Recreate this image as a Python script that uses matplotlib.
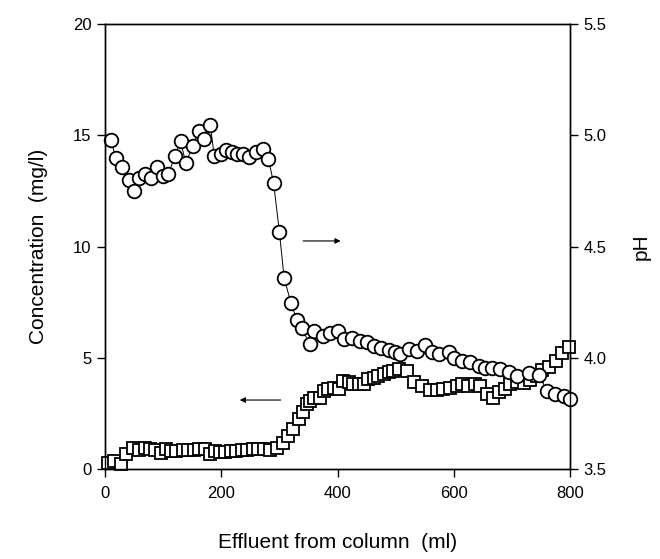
import numpy as np
import matplotlib.pyplot as plt

plt.rcParams['font.family'] = ['Liberation Sans', 'DejaVu Sans']

# pH (circles, right axis)
ph_ml = [10, 19, 30, 41, 50, 59, 69, 79, 90, 99, 109, 120, 130, 139, 151, 161, 170, 181,
         188, 200, 209, 218, 227, 238, 248, 259, 271, 281, 290, 300, 308, 320, 330, 338,
         352, 359, 375, 387, 400, 411, 425, 439, 450, 463, 475, 488, 498, 508, 522, 536,
         551, 562, 574, 591, 601, 614, 628, 643, 654, 666, 680, 694, 709, 729, 746, 760,
         774, 789, 800]
ph_val = [4.977, 4.898, 4.857, 4.80, 4.749, 4.81, 4.827, 4.808, 4.857, 4.815, 4.824, 4.905,
          4.974, 4.875, 4.952, 5.019, 4.985, 5.048, 4.905, 4.918, 4.936, 4.925, 4.918, 4.918,
          4.902, 4.925, 4.94, 4.895, 4.785, 4.564, 4.36, 4.244, 4.17, 4.136, 4.06, 4.12,
          4.099, 4.11, 4.12, 4.084, 4.089, 4.077, 4.069, 4.054, 4.044, 4.035, 4.024, 4.017,
          4.039, 4.032, 4.059, 4.024, 4.017, 4.024, 4.001, 3.986, 3.979, 3.964, 3.956, 3.956,
          3.949, 3.934, 3.919, 3.932, 3.923, 3.851, 3.836, 3.829, 3.814]

# concentration (squares, left axis)
conc_ml = [6, 15, 27, 36, 49, 58, 69, 77, 86, 96, 105, 114, 123, 134, 143, 153, 162, 172,
           181, 189, 198, 207, 216, 225, 235, 245, 254, 264, 274, 284, 295, 306, 315, 324,
           333, 341, 347, 353, 360, 370, 376, 383, 393, 402, 410, 419, 427, 436, 445, 453,
           462, 470, 479, 488, 496, 505, 519, 531, 545, 559, 571, 582, 594, 605, 614, 625,
           637, 645, 657, 667, 677, 688, 697, 709, 720, 731, 743, 752, 763, 775, 786, 798]
conc_val = [0.28, 0.36, 0.24, 0.66, 0.96, 0.84, 0.96, 0.89, 0.84, 0.73, 0.89, 0.81, 0.81,
            0.84, 0.84, 0.84, 0.89, 0.89, 0.69, 0.81, 0.78, 0.78, 0.81, 0.81, 0.84, 0.84,
            0.89, 0.89, 0.89, 0.84, 0.93, 1.18, 1.49, 1.79, 2.24, 2.54, 2.91, 3.06, 3.21,
            3.21, 3.51, 3.59, 3.66, 3.59, 3.96, 3.89, 3.81, 3.81, 3.81, 4.04, 4.11, 4.19,
            4.26, 4.34, 4.41, 4.49, 4.41, 3.89, 3.74, 3.55, 3.55, 3.59, 3.64, 3.74, 3.81,
            3.74, 3.81, 3.74, 3.36, 3.21, 3.44, 3.59, 3.81, 3.89, 3.85, 4.0, 4.2, 4.45,
            4.6, 4.85, 5.2, 5.5]

fig = plt.figure(figsize=(6.6, 5.59), dpi=100)
ax = fig.add_axes([0.159, 0.161, 0.705, 0.796])
ax2 = ax.twinx()

ax.plot(conc_ml, conc_val, ls='none', marker='s', ms=8.5, mfc='white', mec='black',
        mew=1.3, clip_on=False, zorder=3)
ax2.plot(ph_ml, ph_val, color='black', lw=0.7, marker='o', ms=9.8, mfc='white',
         mec='black', mew=1.3, clip_on=False)

ax.set_xlim(0, 800)
ax.set_ylim(0, 20)
ax2.set_ylim(3.5, 5.5)
ax.set_xticks([0, 200, 400, 600, 800])
ax.set_yticks([0, 5, 10, 15, 20])
ax2.set_yticks([3.5, 4.0, 4.5, 5.0, 5.5])
ax2.set_yticklabels(['3.5', '4.0', '4.5', '5.0', '5.5'])

for a in (ax, ax2):
    a.tick_params(direction='out', length=6, width=1, labelsize=12)
    for s in a.spines.values():
        s.set_linewidth(1)
ax.tick_params(axis='x', pad=6)

ax.set_xlabel('Effluent from column  (ml)', fontsize=15, labelpad=23)
ax.set_ylabel('Concentration  (mg/l)', fontsize=15, labelpad=18)
ax2.set_ylabel('pH', fontsize=15, labelpad=18)

# arrows pointing to the axis each series belongs to
ax.annotate('', xy=(410, 10.25), xytext=(336, 10.25),
            arrowprops=dict(arrowstyle='-|>', color='black', lw=0.8, mutation_scale=8))
ax.annotate('', xy=(227, 3.1), xytext=(307, 3.1),
            arrowprops=dict(arrowstyle='-|>', color='black', lw=0.8, mutation_scale=8))

fig.savefig('out.png', dpi=100)
